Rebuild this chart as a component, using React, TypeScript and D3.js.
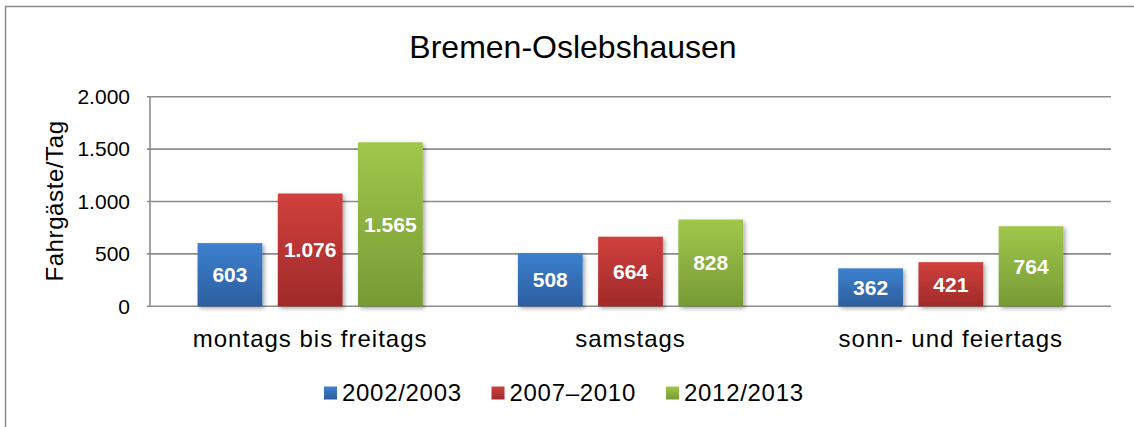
import * as d3 from 'd3';

const categories = ['montags bis freitags', 'samstags', 'sonn- und feiertags'];
const series = ['2002/2003', '2007–2010', '2012/2013'];
const values2002 = [603, 508, 362];
const values2007 = [1076, 664, 421];
const values2012 = [1565, 828, 764];
const yTicks = [0, 500, 1000, 1500, 2000];
const colorsTop = ['#3d80cf', '#d0403d', '#a0c74b'];
const colorsBottom = ['#2c5e9e', '#9f2a2a', '#779a35'];

const W = 1134;
const H = 427;
const font = 'Arial, "Liberation Sans", sans-serif';

const fmt = (v: number) => d3.format(',')(v).replace(/,/g, '.');

const App = () => {
  const allValues = [values2002, values2007, values2012];

  const x = d3.scaleBand<string>().domain(categories).range([150, 1111]).padding(0);
  const half = x.bandwidth() * 0.3515;
  const inner = d3.scaleBand<string>().domain(series).range([-half, half]).paddingInner(0.193).paddingOuter(0);
  const y = d3.scaleLinear().domain([0, 2000]).range([306.3, 96.7]);

  return (
    <svg width={W} height={H} style={{ position: 'absolute', left: 0, top: 0, background: '#fff' }} fontFamily={font}>
      <defs>
        {series.map((s, i) => (
          <linearGradient key={s} id={`grad${i}`} x1="0" y1="0" x2="0" y2="1">
            <stop offset="0%" stopColor={colorsTop[i]} />
            <stop offset="100%" stopColor={colorsBottom[i]} />
          </linearGradient>
        ))}
        <filter id="shadow" x="-20%" y="-20%" width="140%" height="140%">
          <feDropShadow dx="2" dy="2" stdDeviation="2" floodColor="#000" floodOpacity="0.35" />
        </filter>
      </defs>

      {/* outer frame */}
      <rect x={5.5} y={6.5} width={W + 20} height={H + 20} fill="none" stroke="#8a8a8a" strokeWidth={1.5} />

      <text x={573} y={58} textAnchor="middle" fontSize={32} fill="#000">Bremen-Oslebshausen</text>

      {/* gridlines */}
      {yTicks.map(t => (
        <g key={t}>
          <line x1={147} x2={1111} y1={y(t)} y2={y(t)} stroke="#8c8c8c" strokeWidth={1.6} />
          <text x={130} y={y(t)} dy="0.35em" textAnchor="end" fontSize={21} fill="#000">{fmt(t)}</text>
        </g>
      ))}
      <line x1={150} x2={150} y1={y(2000)} y2={y(0)} stroke="#8c8c8c" strokeWidth={1.6} />

      <text transform={`translate(63,201) rotate(-90)`} textAnchor="middle" fontSize={24} letterSpacing={0.6} fill="#000">Fahrgäste/Tag</text>

      {/* bars */}
      {categories.map((c, ci) => (
        <g key={c} transform={`translate(${(x(c) ?? 0) + x.bandwidth() / 2},0)`}>
          {series.map((s, si) => {
            const v = allValues[si][ci];
            const bx = inner(s) ?? 0;
            const by = y(v);
            const bh = y(0) - by;
            return (
              <g key={s}>
                <rect x={bx} y={by} width={inner.bandwidth()} height={bh} fill={`url(#grad${si})`} filter="url(#shadow)" />
                <text x={bx + inner.bandwidth() / 2} y={by + bh / 2} dy="0.36em" textAnchor="middle" fontSize={21} fontWeight="bold" fill="#fff">{fmt(v)}</text>
              </g>
            );
          })}
          <text x={0} y={347} textAnchor="middle" fontSize={24} letterSpacing={1} fill="#000">{c}</text>
        </g>
      ))}

      {/* legend */}
      {series.map((s, i) => {
        const lx = [324, 491.5, 666][i];
        return (
          <g key={s} transform={`translate(${lx},0)`}>
            <rect x={0} y={386.5} width={13} height={13} fill={`url(#grad${i})`} />
            <text x={18} y={400.5} fontSize={24} letterSpacing={0.7} fill="#000">{s}</text>
          </g>
        );
      })}
    </svg>
  );
};

export default App;
